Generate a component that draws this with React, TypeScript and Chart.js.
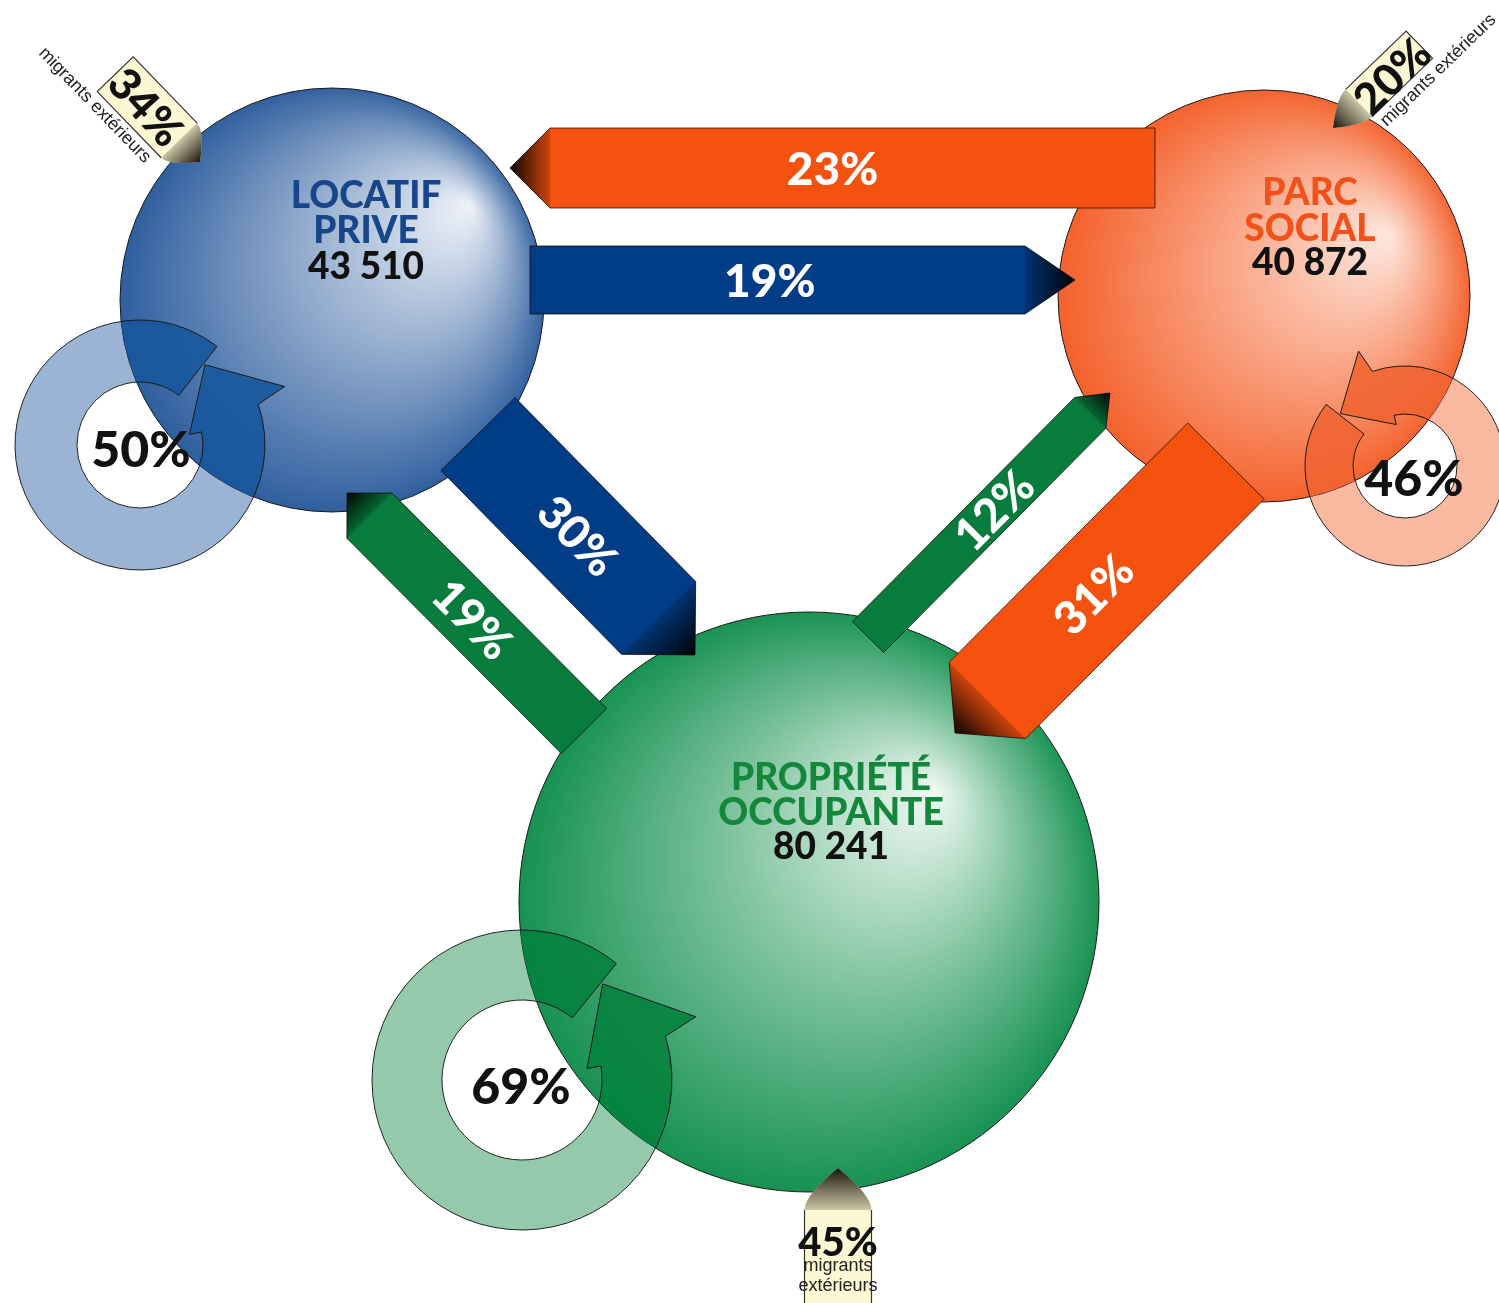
import React, { useEffect, useRef } from "react";
import { Chart, registerables } from "chart.js";

Chart.register(...registerables);

// ---------------- DATA ----------------
const nodeLabels = [
  ["LOCATIF", "PRIVE"],
  ["PARC", "SOCIAL"],
  ["PROPRIÉTÉ", "OCCUPANTE"],
];
const nodeTotals = [43510, 40872, 80241];
const stayRates = [50, 46, 69];
const externalRates = [34, 20, 45];
const externalLabel = ["migrants", "extérieurs"];
const flowFrom = [1, 0, 0, 2, 2, 1];
const flowTo = [0, 1, 2, 0, 1, 2];
const flowRates = [23, 19, 30, 19, 12, 31];

// ---------------- LAYOUT / STYLE ----------------
const W = 1499;
const H = 1303;
const HEAD_FONT = "Lato, 'DejaVu Sans', sans-serif";
const HEAD_WEIGHT = "900";
const SMALL_FONT = "'Liberation Sans', Arial, sans-serif";

const NODE_LAYOUT = [
  { x: 332, y: 300, r: 212, hx: 470, hy: 205, light: "#eef2f8", mid: "#8ea8cb", dark: "#2d5d9d",
    label: "#17468a", arrow: "#003d86", ringLight: "#9cb4d3", ringDark: "rgba(24,86,156,0.9)",
    lx: 366, ly: [195, 230, 266] },
  { x: 1264, y: 296, r: 206, hx: 1390, hy: 235, light: "#fde7de", mid: "#f9a383", dark: "#f4602a",
    label: "#f0521a", arrow: "#f5520f", ringLight: "#f9b9a1", ringDark: "rgba(240,100,50,0.88)",
    lx: 1310, ly: [192, 228, 262] },
  { x: 809, y: 902, r: 290, hx: 935, hy: 790, light: "#f1f9f4", mid: "#7cc29b", dark: "#149050",
    label: "#13873c", arrow: "#077c3c", ringLight: "#95c9ab", ringDark: "rgba(6,130,62,0.9)",
    lx: 831, ly: [777, 812, 846] },
];

const RING_LAYOUT = [
  { cx: 140, cy: 445, ri: 63, ro: 125, base: -19, tail: 308, lx: 141, ly: 449 },
  { cx: 1405, cy: 466, ri: 52, ro: 100, base: -109, tail: 218, lx: 1414, ly: 478 },
  { cx: 522, cy: 1080, ri: 80, ro: 150, base: -17, tail: 309, lx: 521, ly: 1086 },
];

const FLOW_LAYOUT = [
  { tx: 1155, ty: 168, px: 510, py: 168, w: 80, hl: 40, t: 0.5 },
  { tx: 530, ty: 280, px: 1075, py: 280, w: 68, hl: 50, t: 0.44 },
  { tx: 478, ty: 434, px: 695, py: 655, w: 104, hl: 52, t: 0.46 },
  { tx: 584, ty: 731, px: 347, py: 493, w: 64, hl: 32, t: 0.47 },
  { tx: 868, ty: 637, px: 1110, py: 393, w: 44, hl: 28, t: 0.52 },
  { tx: 1226, ty: 461, px: 955, py: 733, w: 108, hl: 46, t: 0.49 },
];

const MIGRANT_LAYOUT = [
  { px: 200, py: 162, ang: 46, w: 50, len: 92, hl: 30, tx: 146, ty: 107, trot: 48, size: 44,
    sx: 95, sy: 105, srot: 46, stack: false },
  { px: 1333, py: 128, ang: 136, w: 38, len: 84, hl: 36, tx: 1392, ty: 76, trot: -44, size: 44,
    sx: 1438, sy: 70, srot: -44, stack: false },
  { px: 838, py: 1168, ang: -90, w: 67, len: 160, hl: 42, tx: 838, ty: 1242, trot: 0, size: 40,
    sx: 838, sy: 1266, srot: 0, stack: true },
];

const DEG = Math.PI / 180;

function fmtTotal(n: number) {
  return String(n).replace(/\B(?=(\d{3})+(?!\d))/g, " ");
}

function geo(chart: any) {
  const xs = chart.scales.x;
  const ys = chart.scales.y;
  const X = (v: number) => xs.getPixelForValue(v);
  const Y = (v: number) => ys.getPixelForValue(v);
  const s = X(1) - X(0);
  return { X, Y, s };
}

function textAt(ctx: CanvasRenderingContext2D, txt: string, x: number, y: number, rot: number,
  font: string, size: number, color: string, capRatio = 0.36) {
  ctx.save();
  ctx.translate(x, y);
  ctx.rotate(rot * DEG);
  ctx.font = font;
  ctx.fillStyle = color;
  ctx.textAlign = "center";
  ctx.textBaseline = "alphabetic";
  ctx.fillText(txt, 0, size * capRatio);
  ctx.restore();
}

function ringPath(ctx: CanvasRenderingContext2D, g: any, rl: any) {
  const cx = g.X(rl.cx), cy = g.Y(rl.cy);
  const ri = rl.ri * g.s, ro = rl.ro * g.s;
  const band = ro - ri;
  const tail = rl.tail * DEG, base = rl.base * DEG;
  const tipA = (rl.tail - 360 + 1) * DEG;
  const ob = (rl.base - 3) * DEG;
  const ib = (rl.base + 7) * DEG;
  const tr = (ri + ro) / 2 + 0.15 * band;
  const P = (r: number, a: number) => [cx + r * Math.cos(a), cy + r * Math.sin(a)];
  ctx.beginPath();
  const t0 = P(ro, tail);
  ctx.moveTo(t0[0], t0[1]);
  ctx.arc(cx, cy, ro, tail, base, true);
  const p1 = P(ro + 0.5 * band, ob);
  ctx.lineTo(p1[0], p1[1]);
  const p2 = P(tr, tipA);
  ctx.lineTo(p2[0], p2[1]);
  const p3 = P(ri - 0.2 * band, ib);
  ctx.lineTo(p3[0], p3[1]);
  const p4 = P(ri, ib);
  ctx.lineTo(p4[0], p4[1]);
  ctx.arc(cx, cy, ri, ib, tail, false);
  ctx.closePath();
}

function drawFlow(ctx: CanvasRenderingContext2D, g: any, f: any, color: string, label: string) {
  const tx = g.X(f.tx), ty = g.Y(f.ty), px = g.X(f.px), py = g.Y(f.py);
  const w = f.w * g.s, hl = f.hl * g.s, h = w / 2;
  const dx = px - tx, dy = py - ty;
  const L = Math.hypot(dx, dy);
  const ux = dx / L, uy = dy / L, nx = -uy, ny = ux;
  const bx = px - ux * hl, by = py - uy * hl;
  ctx.save();
  ctx.beginPath();
  ctx.moveTo(tx + nx * h, ty + ny * h);
  ctx.lineTo(bx + nx * h, by + ny * h);
  ctx.lineTo(px, py);
  ctx.lineTo(bx - nx * h, by - ny * h);
  ctx.lineTo(tx - nx * h, ty - ny * h);
  ctx.closePath();
  ctx.fillStyle = color;
  ctx.fill();
  ctx.lineWidth = 1;
  ctx.strokeStyle = "rgba(20,10,5,0.75)";
  ctx.stroke();
  const gr = ctx.createLinearGradient(bx - ux * hl * 0.2, by - uy * hl * 0.2, px, py);
  gr.addColorStop(0, "rgba(0,0,0,0)");
  gr.addColorStop(1, "rgba(0,0,0,0.95)");
  ctx.beginPath();
  ctx.moveTo(bx + nx * h, by + ny * h);
  ctx.lineTo(px, py);
  ctx.lineTo(bx - nx * h, by - ny * h);
  ctx.closePath();
  ctx.fillStyle = gr;
  ctx.fill();
  ctx.restore();
  let rot = Math.atan2(dy, dx) / DEG;
  if (rot > 90) rot -= 180;
  if (rot < -90) rot += 180;
  const lx = tx + dx * f.t, ly = ty + dy * f.t;
  textAt(ctx, label, lx, ly, rot, `${HEAD_WEIGHT} ${46 * g.s}px ${HEAD_FONT}`, 46 * g.s, "#ffffff");
}

function drawMigrant(ctx: CanvasRenderingContext2D, g: any, m: any, pct: string) {
  const px = g.X(m.px), py = g.Y(m.py);
  const a = m.ang * DEG;
  const ux = Math.cos(a), uy = Math.sin(a), nx = -uy, ny = ux;
  const h = (m.w * g.s) / 2, hl = m.hl * g.s, len = m.len * g.s;
  const bx = px - ux * hl, by = py - uy * hl;
  const ex = bx - ux * len, ey = by - uy * len;
  const k = 0.35;
  const headPath = () => {
    ctx.moveTo(bx + nx * h, by + ny * h);
    ctx.quadraticCurveTo(bx + nx * h + ux * hl * k, by + ny * h + uy * hl * k, px, py);
    ctx.quadraticCurveTo(bx - nx * h + ux * hl * k, by - ny * h + uy * hl * k, bx - nx * h, by - ny * h);
  };
  ctx.save();
  ctx.beginPath();
  ctx.moveTo(ex + nx * h, ey + ny * h);
  ctx.lineTo(bx + nx * h, by + ny * h);
  ctx.quadraticCurveTo(bx + nx * h + ux * hl * k, by + ny * h + uy * hl * k, px, py);
  ctx.quadraticCurveTo(bx - nx * h + ux * hl * k, by - ny * h + uy * hl * k, bx - nx * h, by - ny * h);
  ctx.lineTo(ex - nx * h, ey - ny * h);
  ctx.closePath();
  ctx.fillStyle = "#fbf8d3";
  ctx.fill();
  const gr = ctx.createLinearGradient(bx - ux * hl * 0.3, by - uy * hl * 0.3, px, py);
  gr.addColorStop(0, "rgba(40,32,15,0)");
  gr.addColorStop(1, "rgba(25,20,10,1)");
  ctx.beginPath();
  headPath();
  ctx.closePath();
  ctx.fillStyle = gr;
  ctx.fill();
  ctx.beginPath();
  ctx.moveTo(bx + nx * h, by + ny * h);
  ctx.lineTo(ex + nx * h, ey + ny * h);
  ctx.lineTo(ex - nx * h, ey - ny * h);
  ctx.lineTo(bx - nx * h, by - ny * h);
  ctx.lineWidth = 1.2;
  ctx.strokeStyle = "#333";
  ctx.stroke();
  ctx.restore();
  textAt(ctx, pct, g.X(m.tx), g.Y(m.ty), m.trot, `${HEAD_WEIGHT} ${m.size * g.s}px ${HEAD_FONT}`, m.size * g.s, "#111");
  const ss = 18 * g.s;
  if (m.stack) {
    textAt(ctx, externalLabel[0], g.X(m.sx), g.Y(m.sy), 0, `${ss}px ${SMALL_FONT}`, ss, "#222", 0.3);
    textAt(ctx, externalLabel[1], g.X(m.sx), g.Y(m.sy + 20), 0, `${ss}px ${SMALL_FONT}`, ss, "#222", 0.3);
  } else {
    textAt(ctx, externalLabel.join(" "), g.X(m.sx), g.Y(m.sy), m.srot, `${ss}px ${SMALL_FONT}`, ss, "#222", 0.3);
  }
}

const diagramPlugin = {
  id: "flowDiagram",
  beforeDatasetsDraw(chart: any) {
    const ctx: CanvasRenderingContext2D = chart.ctx;
    const g = geo(chart);
    RING_LAYOUT.forEach((rl, i) => {
      ctx.save();
      ringPath(ctx, g, rl);
      ctx.fillStyle = NODE_LAYOUT[i].ringLight;
      ctx.fill();
      ctx.lineWidth = 1;
      ctx.strokeStyle = "#222";
      ctx.stroke();
      ctx.restore();
    });
  },
  afterDatasetsDraw(chart: any) {
    const ctx: CanvasRenderingContext2D = chart.ctx;
    const g = geo(chart);
    RING_LAYOUT.forEach((rl, i) => {
      const n = NODE_LAYOUT[i];
      ctx.save();
      ctx.beginPath();
      ctx.arc(g.X(n.x), g.Y(n.y), n.r * g.s, 0, Math.PI * 2);
      ctx.clip();
      ringPath(ctx, g, rl);
      ctx.fillStyle = n.ringDark;
      ctx.fill();
      ctx.lineWidth = 1;
      ctx.strokeStyle = "#1a1a1a";
      ctx.stroke();
      ctx.restore();
    });
    FLOW_LAYOUT.forEach((f, i) => {
      drawFlow(ctx, g, f, NODE_LAYOUT[flowFrom[i]].arrow, `${flowRates[i]}%`);
    });
    MIGRANT_LAYOUT.forEach((m, i) => drawMigrant(ctx, g, m, `${externalRates[i]}%`));
    RING_LAYOUT.forEach((rl, i) => {
      const sz = 50 * g.s;
      textAt(ctx, `${stayRates[i]}%`, g.X(rl.lx), g.Y(rl.ly), 0, `${HEAD_WEIGHT} ${sz}px ${HEAD_FONT}`, sz, "#111");
    });
    NODE_LAYOUT.forEach((n, i) => {
      const sz = 37 * g.s;
      const f = `${HEAD_WEIGHT} ${sz}px ${HEAD_FONT}`;
      textAt(ctx, nodeLabels[i][0], g.X(n.lx), g.Y(n.ly[0]), 0, f, sz, n.label);
      textAt(ctx, nodeLabels[i][1], g.X(n.lx), g.Y(n.ly[1]), 0, f, sz, n.label);
      textAt(ctx, fmtTotal(nodeTotals[i]), g.X(n.lx), g.Y(n.ly[2]), 0, f, sz, "#111");
    });
  },
};

function nodeFill(c: any) {
  const i = c.dataIndex;
  const n = NODE_LAYOUT[i ?? 0];
  const chart = c.chart;
  if (i == null || !chart.chartArea || !chart.scales || !chart.scales.x) return n.mid;
  const g = geo(chart);
  const gr = chart.ctx.createRadialGradient(g.X(n.hx), g.Y(n.hy), 0, g.X(n.x), g.Y(n.y), n.r * g.s * 1.02);
  gr.addColorStop(0, n.light);
  gr.addColorStop(0.5, n.mid);
  gr.addColorStop(1, n.dark);
  return gr;
}

export default function App() {
  const ref = useRef<HTMLCanvasElement>(null);
  useEffect(() => {
    const canvas = ref.current;
    if (!canvas) return;
    const chart = new Chart(canvas, {
      type: "bubble",
      data: {
        datasets: [
          {
            label: "Parcs",
            data: NODE_LAYOUT.map((n) => ({ x: n.x, y: n.y, r: n.r })),
            backgroundColor: nodeFill as any,
            borderColor: "#1a1a1a",
            borderWidth: 1,
            clip: false as any,
          },
        ],
      },
      options: {
        responsive: true,
        maintainAspectRatio: false,
        animation: false,
        events: [],
        layout: { padding: 0, autoPadding: false } as any,
        plugins: { legend: { display: false }, tooltip: { enabled: false } },
        scales: {
          x: { type: "linear", min: 0, max: W, display: false },
          y: { type: "linear", min: 0, max: H, reverse: true, display: false },
        },
      },
      plugins: [diagramPlugin as any],
    });
    return () => chart.destroy();
  }, []);
  return (
    <div style={{ position: "absolute", left: 0, top: 0, width: W, height: H, background: "#fff", overflow: "hidden" }}>
      <canvas ref={ref} />
    </div>
  );
}
